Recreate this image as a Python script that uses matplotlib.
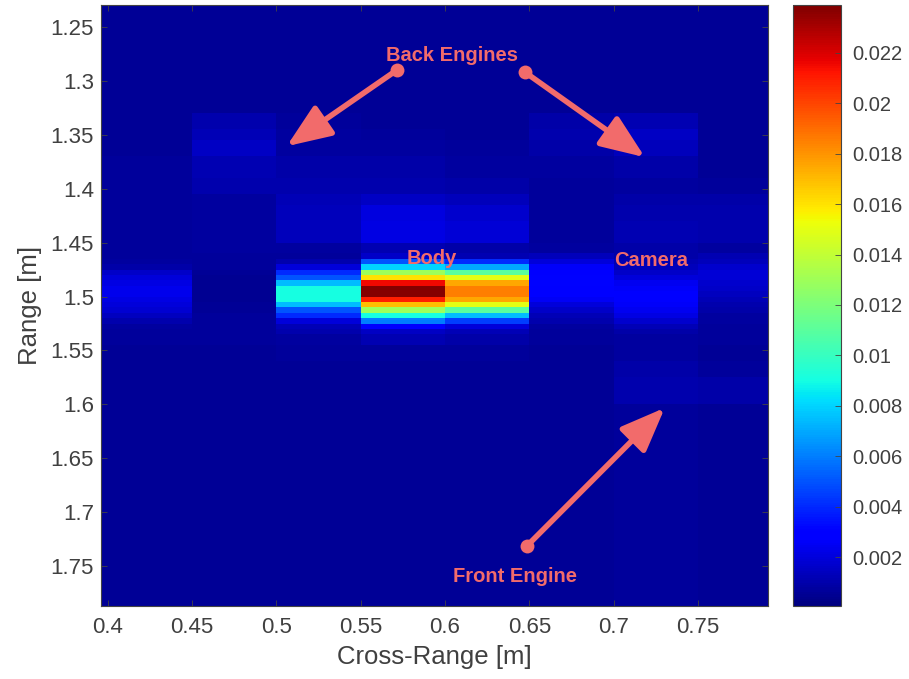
import numpy as np
import matplotlib
matplotlib.use('Agg')
import matplotlib.pyplot as plt
from matplotlib.colors import Normalize

# cross-range bins (m) and range bins (m) of the SAR image
cross_edges = [0.39, 0.45, 0.50, 0.55, 0.60, 0.65, 0.70, 0.75, 0.80]
range_edges = [1.23, 1.33, 1.345, 1.355, 1.37, 1.39, 1.405, 1.415, 1.43, 1.45, 1.46,
               1.465, 1.47, 1.475, 1.48, 1.485, 1.49, 1.495, 1.50, 1.505, 1.51,
               1.515, 1.52, 1.525, 1.53, 1.535, 1.545, 1.56, 1.575, 1.60, 1.79]

# reflectivity per range bin, one column per cross-range bin
intensity = [
    [.0006, .0006, .0006, .0006, .0006, .0006, .0006, .0006],
    [.0006, .0010, .0007, .0006, .0006, .0009, .0011, .0006],
    [.0006, .0012, .0008, .0007, .0006, .0010, .0015, .0006],
    [.0006, .0015, .0008, .0008, .0007, .0009, .0013, .0006],
    [.0007, .0011, .0009, .0009, .0008, .0008, .0009, .0006],
    [.0007, .0010, .0010, .0010, .0009, .0007, .0008, .0007],
    [.0007, .0008, .0012, .0015, .0013, .0007, .0009, .0009],
    [.0007, .0008, .0013, .0021, .0017, .0007, .0010, .0010],
    [.0007, .0008, .0013, .0022, .0019, .0007, .0011, .0010],
    [.0007, .0008, .0008, .0011, .0009, .0008, .0009, .0008],
    [.0007, .0007, .0007, .0016, .0011, .0013, .0009, .0011],
    [.0008, .0007, .0010, .0050, .0040, .0020, .0011, .0013],
    [.0009, .0007, .0020, .0080, .0070, .0026, .0013, .0017],
    [.0016, .0006, .0040, .0130, .0110, .0030, .0016, .0019],
    [.0020, .0005, .0050, .0160, .0150, .0031, .0020, .0019],
    [.0022, .0005, .0075, .0215, .0175, .0031, .0024, .0017],
    [.0023, .0005, .0090, .0238, .0185, .0030, .0026, .0016],
    [.0023, .0005, .0090, .0238, .0185, .0028, .0027, .0014],
    [.0022, .0005, .0090, .0210, .0175, .0025, .0027, .0012],
    [.0020, .0006, .0075, .0170, .0150, .0020, .0026, .0010],
    [.0018, .0006, .0050, .0130, .0110, .0016, .0024, .0009],
    [.0014, .0007, .0040, .0090, .0075, .0012, .0022, .0008],
    [.0010, .0007, .0020, .0060, .0045, .0010, .0017, .0008],
    [.0008, .0007, .0012, .0030, .0020, .0008, .0012, .0007],
    [.0007, .0007, .0010, .0015, .0012, .0007, .0009, .0007],
    [.0007, .0007, .0008, .0011, .0009, .0007, .0008, .0007],
    [.0006, .0006, .0007, .0007, .0007, .0006, .0008, .0006],
    [.0006, .0006, .0006, .0006, .0006, .0006, .0009, .0007],
    [.0006, .0006, .0006, .0006, .0006, .0006, .0010, .0009],
    [.0006, .0006, .0006, .0006, .0006, .0006, .0007, .0006],
]

cbar_ticks = [0.002, 0.004, 0.006, 0.008, 0.01, 0.012, 0.014, 0.016, 0.018, 0.02, 0.022]
x_ticks = [0.4, 0.45, 0.5, 0.55, 0.6, 0.65, 0.7, 0.75]
y_ticks = [1.25, 1.3, 1.35, 1.4, 1.45, 1.5, 1.55, 1.6, 1.65, 1.7, 1.75]

# labels: text, text position, arrow tails and heads
labels = [
    ('Back Engines', (0.604, 1.276)),
    ('Body', (0.592, 1.4647)),
    ('Camera', (0.722, 1.4666)),
    ('Front Engine', (0.6414, 1.7593)),
]
arrows = [
    ((0.5714, 1.290), (0.5061, 1.3606)),
    ((0.6473, 1.2918), (0.7185, 1.3708)),
    ((0.6485, 1.7314), (0.7303, 1.6032)),
]

label_color = '#F26B6B'
text_color = '#404040'

plt.rcParams['font.family'] = ['Liberation Sans', 'DejaVu Sans']

fig = plt.figure(figsize=(9.09, 6.79), dpi=100)
ax = fig.add_axes([101 / 909, 1 - 606 / 679, 667 / 909, 601 / 679])
cax = fig.add_axes([793 / 909, 1 - 606 / 679, 48 / 909, 601 / 679])

norm = Normalize(vmin=0.00006, vmax=0.0239)
mesh = ax.pcolormesh(cross_edges, range_edges, np.array(intensity),
                     cmap='jet', norm=norm, shading='flat')
ax.set_xlim(0.396, 0.7915)
ax.set_ylim(1.787, 1.2296)

ax.set_xticks(x_ticks)
ax.set_xticklabels([f'{v:g}' for v in x_ticks])
ax.set_yticks(y_ticks)
ax.set_yticklabels([f'{v:g}' for v in y_ticks])
ax.tick_params(direction='in', length=4, width=0.6, color='#444444',
               labelsize=16, labelcolor=text_color, top=True, right=True)
ax.tick_params(axis='x', pad=8)
ax.tick_params(axis='y', pad=5)
for s in ax.spines.values():
    s.set_color('#444444')
    s.set_linewidth(0.8)
ax.set_xlabel('Cross-Range [m]', fontsize=18.5, color=text_color, labelpad=5)
ax.set_ylabel('Range [m]', fontsize=18.5, color=text_color, labelpad=6)

cb = fig.colorbar(mesh, cax=cax, ticks=cbar_ticks)
cb.ax.set_yticklabels([f'{v:g}' for v in cbar_ticks])
cb.ax.tick_params(direction='in', length=4, width=0.6, color='#444444',
                  labelsize=14.5, labelcolor=text_color, pad=8)
cb.outline.set_edgecolor('#444444')
cb.outline.set_linewidth(0.8)

# arrows with a round tail dot
for tail, head in arrows:
    ax.annotate('', xy=head, xytext=tail,
                arrowprops=dict(arrowstyle='-|>,head_length=1.5,head_width=0.6',
                                color=label_color, lw=4, mutation_scale=18,
                                shrinkA=0, shrinkB=0))
    ax.plot(tail[0], tail[1], marker='o', ms=10, color=label_color, mec='none')

for text, pos in labels:
    ax.text(pos[0], pos[1], text, ha='center', va='center', color=label_color,
            fontsize=14.5, fontweight='bold')

plt.savefig('out.png', dpi=100)
plt.close()
